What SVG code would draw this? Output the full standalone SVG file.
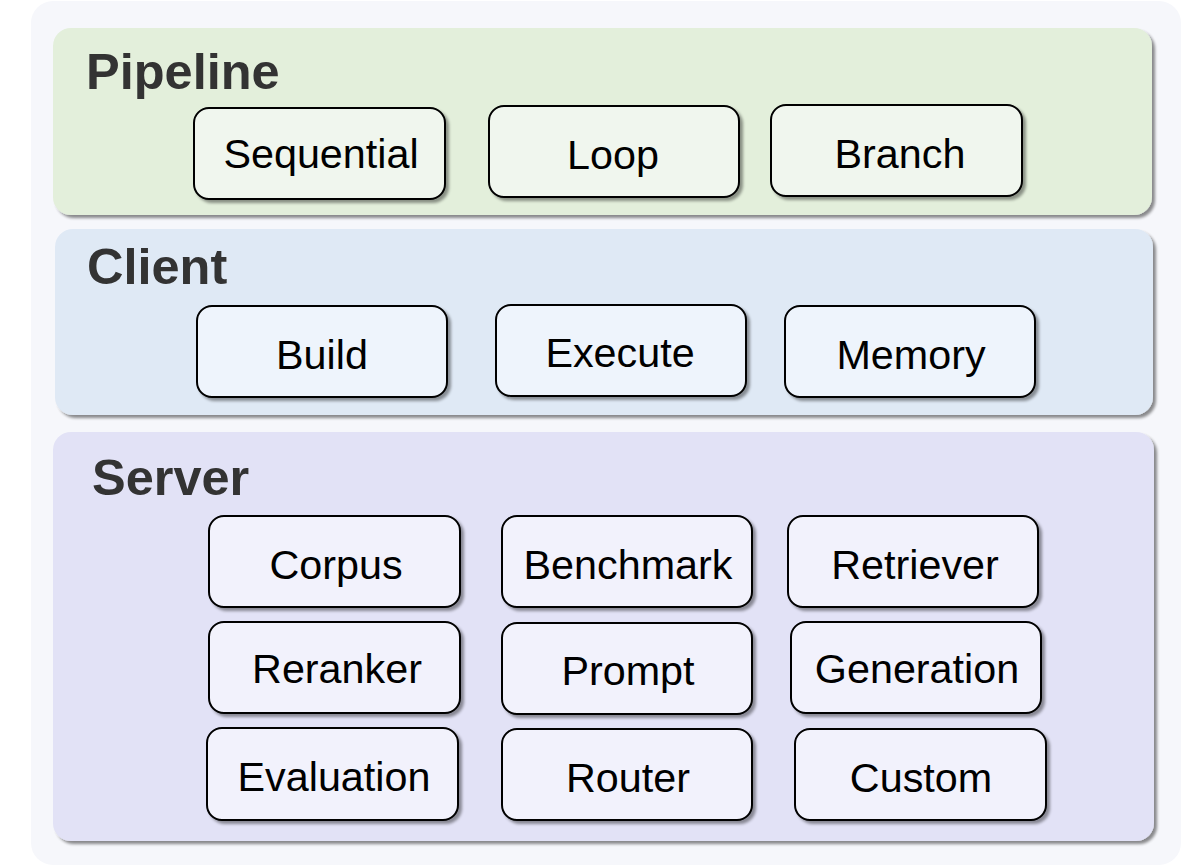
<svg xmlns="http://www.w3.org/2000/svg" width="1183" height="866" viewBox="0 0 1183 866">
<defs>
<filter id="sh" x="-5%" y="-5%" width="115%" height="120%">
<feGaussianBlur in="SourceAlpha" stdDeviation="1.5"/>
<feOffset dx="3" dy="3" result="o"/>
<feComponentTransfer><feFuncA type="linear" slope="0.45"/></feComponentTransfer>
<feMerge><feMergeNode/><feMergeNode in="SourceGraphic"/></feMerge>
</filter>
<filter id="nsh" x="-5%" y="-5%" width="115%" height="120%">
<feGaussianBlur in="SourceAlpha" stdDeviation="1.5"/>
<feOffset dx="3" dy="3" result="o"/>
<feComponentTransfer><feFuncA type="linear" slope="0.4"/></feComponentTransfer>
<feMerge><feMergeNode/><feMergeNode in="SourceGraphic"/></feMerge>
</filter>
</defs>
<style>
.title{font-family:"Liberation Sans",Arial,sans-serif;font-weight:bold;font-size:50.5px;fill:#333333}
.lbl{font-family:"Liberation Sans",Arial,sans-serif;font-size:41.3px;fill:#000000;text-anchor:middle}
.panel{filter:url(#sh)}
.node rect{stroke:#000000;stroke-width:2;filter:url(#nsh)}
.pn rect{fill:#f0f6ee}
.cn rect{fill:#eef4fc}
.sn rect{fill:#f2f2fc}
</style>
<rect x="31" y="1" width="1150" height="864" rx="22" fill="#f6f7fb"/>
<g id="pipeline">
<rect class="panel" x="53" y="28" width="1099" height="187" rx="18" fill="#e3efdb"/>
<text class="title" x="86" y="89">Pipeline</text>
</g>
<g id="client">
<rect class="panel" x="55" y="229" width="1098" height="186" rx="18" fill="#dfe9f5"/>
<text class="title" x="87" y="284">Client</text>
</g>
<g id="server">
<rect class="panel" x="53" y="432" width="1101" height="409" rx="18" fill="#e2e2f6"/>
<text class="title" x="92" y="495">Server</text>
</g>
<g id="n-sequential" class="node pn"><rect x="194" y="108" width="251" height="91" rx="15"/><text class="lbl" x="321" y="168">Sequential</text></g>
<g id="n-loop" class="node pn"><rect x="489" y="106" width="250" height="91" rx="15"/><text class="lbl" x="613" y="169">Loop</text></g>
<g id="n-branch" class="node pn"><rect x="771" y="105" width="251" height="91" rx="15"/><text class="lbl" x="900" y="168">Branch</text></g>
<g id="n-build" class="node cn"><rect x="197" y="306" width="250" height="91" rx="15"/><text class="lbl" x="322" y="369">Build</text></g>
<g id="n-execute" class="node cn"><rect x="496" y="305" width="250" height="91" rx="15"/><text class="lbl" x="620" y="367">Execute</text></g>
<g id="n-memory" class="node cn"><rect x="785" y="306" width="250" height="91" rx="15"/><text class="lbl" x="911" y="369">Memory</text></g>
<g id="n-corpus" class="node sn"><rect x="209" y="516" width="251" height="91" rx="15"/><text class="lbl" x="336" y="579">Corpus</text></g>
<g id="n-benchmark" class="node sn"><rect x="502" y="516" width="250" height="91" rx="15"/><text class="lbl" x="628" y="579">Benchmark</text></g>
<g id="n-retriever" class="node sn"><rect x="788" y="516" width="250" height="91" rx="15"/><text class="lbl" x="915" y="579">Retriever</text></g>
<g id="n-reranker" class="node sn"><rect x="209" y="622" width="251" height="91" rx="15"/><text class="lbl" x="337" y="683">Reranker</text></g>
<g id="n-prompt" class="node sn"><rect x="502" y="623" width="250" height="91" rx="15"/><text class="lbl" x="628" y="685">Prompt</text></g>
<g id="n-generation" class="node sn"><rect x="791" y="622" width="250" height="91" rx="15"/><text class="lbl" x="917" y="683">Generation</text></g>
<g id="n-evaluation" class="node sn"><rect x="207" y="728" width="251" height="92" rx="15"/><text class="lbl" x="334" y="791">Evaluation</text></g>
<g id="n-router" class="node sn"><rect x="502" y="729" width="250" height="91" rx="15"/><text class="lbl" x="628" y="792">Router</text></g>
<g id="n-custom" class="node sn"><rect x="795" y="729" width="251" height="91" rx="15"/><text class="lbl" x="921" y="792">Custom</text></g>
<g id="connectors"/>
</svg>
